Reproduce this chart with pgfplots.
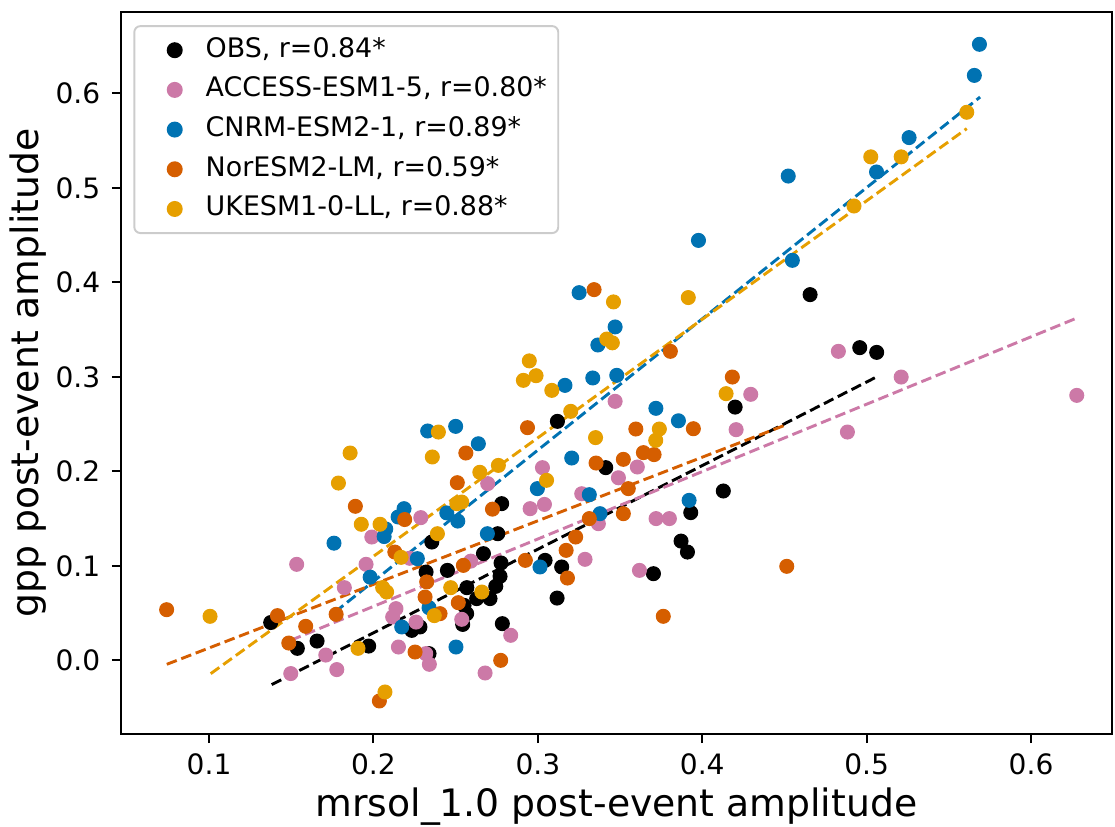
\documentclass[border=0pt]{standalone}
\usepackage{fontspec}
\setmainfont{DejaVu Sans}
\usepackage{pgfplots}
\pgfplotsset{compat=1.18}
\definecolor{cobs}{HTML}{000000}
\definecolor{cacc}{HTML}{CC79A7}
\definecolor{ccnrm}{HTML}{0072B2}
\definecolor{cnor}{HTML}{D55E00}
\definecolor{cuk}{HTML}{E69F00}
\definecolor{legframe}{HTML}{CCCCCC}
\begin{document}
\begin{tikzpicture}
\useasboundingbox (-49.9pt,-38.4pt) rectangle (410.8pt,303.3pt);
\begin{axis}[
  at={(0pt,0pt)}, anchor=south west,
  scale only axis, width=409.6pt, height=298.3pt,
  xmin=0.0463, xmax=0.6493, ymin=-0.078, ymax=0.686,
  xtick={0.1,0.2,0.3,0.4,0.5,0.6},
  ytick={0,0.1,0.2,0.3,0.4,0.5,0.6},
  scaled ticks=false,
  tick align=outside, tick pos=left,
  major tick length=3.7pt,
  tick style={line width=0.8pt, black},
  axis line style={line width=0.8pt},
  /pgf/number format/assume math mode=true,
  /pgf/number format/fixed,
  /pgf/number format/fixed zerofill,
  /pgf/number format/precision=1,
  every tick label/.append style={font=\fontsize{11.6}{13}\selectfont},
  every x tick label/.append style={anchor=north, inner sep=0pt, yshift=-4.2pt},
  every y tick label/.append style={anchor=east, inner sep=0pt, xshift=-4.6pt},
  xlabel={mrsol\_1.0 post-event amplitude},
  ylabel={gpp post-event amplitude},
  every axis label/.append style={font=\fontsize{15.6}{18}\selectfont},
  every axis x label/.style={at={(axis description cs:0.5,-0.1147)}, anchor=base},
  every axis y label/.style={at={(axis description cs:-0.083,0.5)}, anchor=base, rotate=90},
  legend cell align=left,
  legend style={at={(axis description cs:0.0127,0.9819)}, anchor=north west,
    draw=legframe, line width=0.8pt, rounded corners=2.5pt, fill=white,
    font=\fontsize{11.1}{13}\selectfont,
    inner xsep=1pt, inner ysep=1.75pt, row sep=0pt,
    nodes={inner xsep=3.7pt, inner ysep=2.75pt, text height=8.3pt, text depth=2.6pt}},
  sc/.style={only marks, mark=*, mark size=2.9pt, mark options={draw=none},
    legend image code/.code={\path (0pt,0pt) (24pt,0pt);
      \draw[mark repeat=2,mark phase=2,##1] plot coordinates {(0pt,0pt) (15.3pt,0pt) (24pt,0pt)};}},
  ln/.style={forget plot, line width=1.2pt, dash pattern=on 4.4pt off 2pt},
]
% OBS
\addplot[sc, color=cobs] coordinates {
(0.1375,0.040) (0.1537,0.0127) (0.1657,0.0204) (0.1971,0.0151) (0.232,0.0934)
(0.2233,0.0317) (0.2283,0.0353) (0.2338,0.0071) (0.2784,0.0388) (0.245,0.0952)
(0.2568,0.0769) (0.2551,0.0582) (0.2567,0.0494) (0.2543,0.038) (0.2669,0.1129)
(0.2776,0.103) (0.277,0.0889) (0.2744,0.0783) (0.2709,0.0653) (0.2628,0.0653)
(0.3044,0.1058) (0.2756,0.134) (0.278,0.1658) (0.2355,0.1252) (0.3119,0.2529)
(0.42,0.268) (0.3413,0.2039) (0.393,0.1563) (0.4128,0.1792) (0.3145,0.0988)
(0.3117,0.0659) (0.3703,0.0917) (0.3871,0.1262) (0.391,0.1146) (0.4656,0.387)
(0.4958,0.3309) (0.5061,0.3259)
};
\addlegendentry{OBS, r=0.84*}
% ACCESS-ESM1-5
\addplot[sc, color=cacc] coordinates {
(0.1533,0.1016) (0.1497,-0.014) (0.171,0.0056) (0.1777,-0.0098) (0.1823,0.0769)
(0.1955,0.1016) (0.199,0.1305) (0.2288,0.151) (0.222,0.108) (0.2137,0.0547)
(0.2117,0.0459) (0.2259,0.0405) (0.2152,0.0141) (0.2318,0.0071) (0.234,-0.0042)
(0.2679,-0.0134) (0.2835,0.0265) (0.2537,0.0434) (0.2592,0.105) (0.2953,0.1605)
(0.304,0.165) (0.2695,0.187) (0.3028,0.2039) (0.347,0.2741) (0.3605,0.2046)
(0.349,0.1932) (0.3267,0.1763) (0.3368,0.1446) (0.3719,0.15) (0.38,0.15)
(0.3287,0.1069) (0.3618,0.0952) (0.4828,0.327) (0.521,0.2998) (0.6278,0.2804)
(0.4295,0.2815) (0.4206,0.2441) (0.4883,0.2416)
};
\addlegendentry{ACCESS-ESM1-5, r=0.80*}
% CNRM-ESM2-1
\addplot[sc, color=ccnrm] coordinates {
(0.176,0.124) (0.198,0.088) (0.2075,0.139) (0.2065,0.131) (0.2186,0.1605)
(0.215,0.1517) (0.2267,0.1076) (0.2338,0.0557) (0.2172,0.0353) (0.2502,0.0141)
(0.3013,0.0988) (0.2693,0.134) (0.2446,0.156) (0.2513,0.1474) (0.233,0.2427)
(0.250,0.2476) (0.2638,0.2292) (0.2997,0.1817) (0.3251,0.3891) (0.347,0.3528)
(0.3365,0.3337) (0.3165,0.291) (0.3334,0.2988) (0.348,0.3016) (0.3718,0.2667)
(0.3855,0.2535) (0.3206,0.2141) (0.3313,0.1753) (0.3378,0.1552) (0.392,0.1693)
(0.5686,0.6519) (0.5655,0.619) (0.5258,0.5532) (0.506,0.5168) (0.4523,0.5125)
(0.3977,0.4444) (0.4548,0.4233)
};
\addlegendentry{CNRM-ESM2-1, r=0.89*}
% NorESM2-LM
\addplot[sc, color=cnor] coordinates {
(0.0742,0.0536) (0.1416,0.0473) (0.1588,0.036) (0.1485,0.0183) (0.1773,0.0487)
(0.189,0.163) (0.2036,-0.043) (0.213,0.1146) (0.219,0.149) (0.2324,0.083)
(0.2314,0.067) (0.2405,0.0494) (0.2253,0.0088) (0.2774,0.0) (0.2516,0.061)
(0.2547,0.1005) (0.2924,0.1058) (0.2724,0.16) (0.2562,0.2194) (0.251,0.188)
(0.2937,0.2462) (0.3342,0.3923) (0.3806,0.327) (0.4183,0.2998) (0.3596,0.2448)
(0.3946,0.2451) (0.3642,0.2198) (0.3707,0.2177) (0.3354,0.2088) (0.352,0.2127)
(0.355,0.1817) (0.3313,0.15) (0.352,0.1552) (0.323,0.1305) (0.3172,0.1164)
(0.318,0.0871) (0.3763,0.0466) (0.4514,0.0995)
};
\addlegendentry{NorESM2-LM, r=0.59*}
% UKESM1-0-LL
\addplot[sc, color=cuk] coordinates {
(0.1006,0.0466) (0.1906,0.0127) (0.1926,0.144) (0.204,0.144) (0.2056,0.077)
(0.208,0.0723) (0.207,-0.0335) (0.2168,0.109) (0.237,0.0473) (0.247,0.0769)
(0.2659,0.0723) (0.2389,0.134) (0.2507,0.1658) (0.2537,0.1675) (0.2395,0.2416)
(0.1858,0.2194) (0.1787,0.1876) (0.2358,0.2152) (0.2647,0.199) (0.276,0.2063)
(0.3053,0.1905) (0.2948,0.3169) (0.2912,0.2963) (0.2989,0.3012) (0.3085,0.2857)
(0.346,0.3793) (0.3915,0.3839) (0.3419,0.340) (0.3453,0.336) (0.4145,0.2822)
(0.320,0.2635) (0.3739,0.2448) (0.3717,0.2328) (0.3351,0.2357) (0.5609,0.58)
(0.5025,0.5328) (0.521,0.5328) (0.4923,0.4808)
};
\addlegendentry{UKESM1-0-LL, r=0.88*}
% regression lines
\addplot[ln, color=cobs] coordinates {(0.1381,-0.0257) (0.5051,0.2991)};
\addplot[ln, color=cacc] coordinates {(0.1497,0.0212) (0.6278,0.3622)};
\addplot[ln, color=ccnrm] coordinates {(0.1766,0.0511) (0.569,0.5961)};
\addplot[ln, color=cnor] coordinates {(0.0743,-0.0042) (0.4516,0.2497)};
\addplot[ln, color=cuk] coordinates {(0.101,-0.0141) (0.5609,0.5627)};
\end{axis}
\end{tikzpicture}
\end{document}
